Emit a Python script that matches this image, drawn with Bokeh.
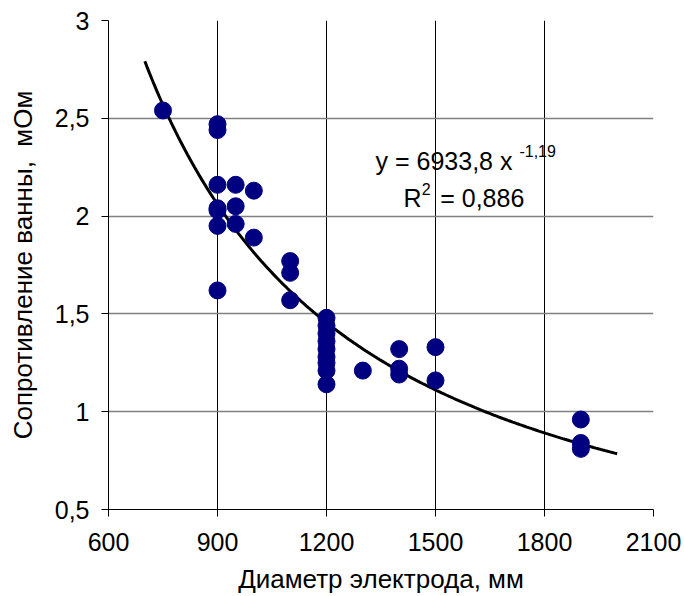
import numpy as np
from bokeh.plotting import figure
from bokeh.models import FixedTicker, Range1d, Label
from bokeh.embed import file_html
from bokeh.resources import INLINE

# Data: electrode diameter (mm) vs bath resistance (mOhm)
diameter = [750,
            900, 900, 900, 900, 900, 900, 900,
            950, 950, 950,
            1000, 1000,
            1100, 1100, 1100,
            1200, 1200, 1200, 1200, 1200, 1200, 1200, 1200, 1200,
            1300,
            1400, 1400, 1400,
            1500, 1500,
            1900, 1900, 1900]
resistance = [2.54,
              2.47, 2.44, 2.16, 2.04, 2.03, 1.95, 1.62,
              2.16, 2.05, 1.96,
              2.13, 1.89,
              1.77, 1.71, 1.57,
              1.48, 1.44, 1.40, 1.36, 1.32, 1.28, 1.25, 1.21, 1.14,
              1.21,
              1.32, 1.22, 1.19,
              1.33, 1.16,
              0.96, 0.84, 0.81]

x_ticks = [600, 900, 1200, 1500, 1800, 2100]
y_ticks = [0.5, 1.0, 1.5, 2.0, 2.5, 3.0]
y_tick_labels = {0.5: "0,5", 1.0: "1", 1.5: "1,5", 2.0: "2", 2.5: "2,5", 3.0: "3"}
trend_range = [700, 2000]

x_label = "Диаметр электрода, мм"
y_label = "Сопротивление ванны,\u00a0\u00a0мОм"
eq_main = "y = 6933,8 x"
eq_exp = "-1,19"
r2_r = "R"
r2_sup = "2"
r2_val = "= 0,886"

# Power trendline fitted by least squares in log-log space (as Excel does)
b, ln_a = np.polyfit(np.log(diameter), np.log(resistance), 1)
a = np.exp(ln_a)
xt = np.linspace(trend_range[0], trend_range[1], 200)
yt = a * xt ** b

FONT = "Liberation Sans"

p = figure(width=684, height=596, output_backend="svg", toolbar_location=None,
           x_range=Range1d(600, 2100), y_range=Range1d(0.5, 3.0),
           min_border_left=108, min_border_right=31, min_border_top=20, min_border_bottom=87)
p.outline_line_color = None
p.background_fill_color = "white"
p.border_fill_color = "white"

p.xaxis.ticker = FixedTicker(ticks=x_ticks)
p.yaxis.ticker = FixedTicker(ticks=y_ticks)
p.yaxis.major_label_overrides = {k: v for k, v in y_tick_labels.items()}
for ax in (p.xaxis, p.yaxis):
    ax.axis_line_color = "black"
    ax.axis_line_width = 1
    ax.major_tick_line_color = "black"
    ax.major_tick_out = 7
    ax.major_tick_in = 0
    ax.minor_tick_line_color = None
    ax.major_label_text_font = FONT
    ax.major_label_text_font_size = "25px"
    ax.major_label_text_color = "black"
    ax.axis_label_text_font = FONT
    ax.axis_label_text_font_size = "26px"
    ax.axis_label_text_font_style = "normal"
    ax.axis_label_text_color = "black"
p.xaxis.axis_label = x_label
p.yaxis.axis_label = y_label
p.xaxis.major_label_standoff = 16
p.yaxis.major_label_standoff = 12
p.xaxis.axis_label_standoff = 10
p.yaxis.axis_label_standoff = 14

p.xgrid.grid_line_color = "black"
p.xgrid.grid_line_width = 1
p.ygrid.grid_line_color = "#808080"
p.ygrid.grid_line_width = 1.5

p.line(xt, yt, line_color="black", line_width=3)
p.scatter(diameter, resistance, size=17, fill_color="#000080", line_color="#000080")

p.add_layout(Label(x=1335, y=2.284, text=eq_main, text_font=FONT, text_font_size="25px",
                   text_baseline="alphabetic", text_color="black"))
p.add_layout(Label(x=1731, y=2.335, text=eq_exp, text_font=FONT, text_font_size="16px",
                   text_baseline="alphabetic", text_color="black"))
p.add_layout(Label(x=1412, y=2.09, text=r2_r, text_font=FONT, text_font_size="25px",
                   text_baseline="alphabetic", text_color="black"))
p.add_layout(Label(x=1462, y=2.141, text=r2_sup, text_font=FONT, text_font_size="16px",
                   text_baseline="alphabetic", text_color="black"))
p.add_layout(Label(x=1513, y=2.09, text=r2_val, text_font=FONT, text_font_size="25px",
                   text_baseline="alphabetic", text_color="black"))

open("out.html", "w").write(file_html(p, INLINE))
